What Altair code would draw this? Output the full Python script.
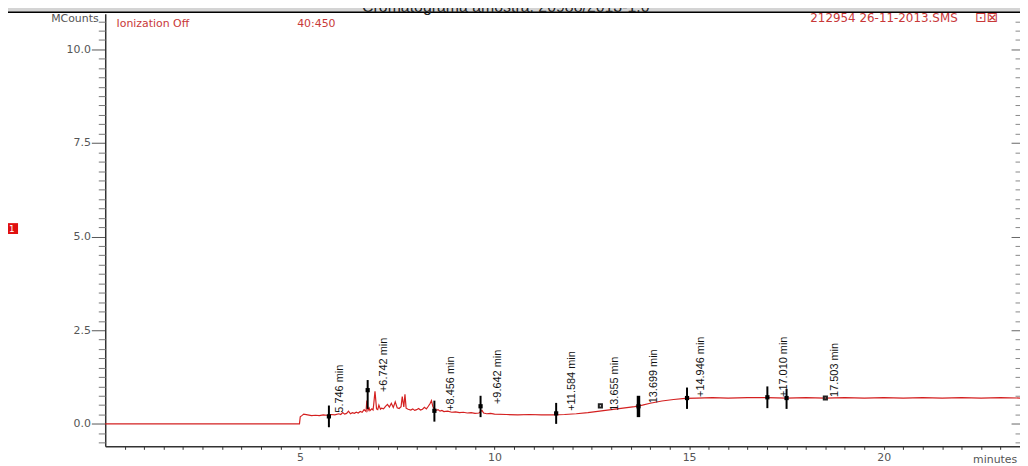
import altair as alt
import pandas as pd

# ---------------- data ----------------
trace_t = [0.0, 4.99, 5.01, 5.05, 5.1, 5.2, 5.3, 5.4, 5.5, 5.6, 5.7, 5.8, 5.9, 6.0, 6.05, 6.1, 6.15,
           6.2, 6.25, 6.3, 6.35, 6.4, 6.45, 6.5, 6.55, 6.6, 6.65, 6.7, 6.72, 6.75, 6.78, 6.8, 6.85,
           6.88, 6.9, 6.93, 6.97, 7.0, 7.03, 7.07, 7.1, 7.15, 7.2, 7.25, 7.3, 7.35, 7.4, 7.45, 7.5,
           7.55, 7.6, 7.63, 7.67, 7.7, 7.73, 7.78, 7.85, 7.9, 7.95, 8.0, 8.05, 8.1, 8.15, 8.2, 8.25,
           8.3, 8.35, 8.38, 8.42, 8.46, 8.5, 8.55, 8.6, 8.65, 8.7, 8.8, 8.9, 9.0, 9.1, 9.2, 9.3, 9.4,
           9.5, 9.6, 9.68, 9.72, 9.8, 9.9, 10.0, 10.3, 10.6, 10.9, 11.2, 11.5, 11.8, 12.1, 12.4, 12.7,
           13.0, 13.3, 13.6, 13.8, 14.0, 14.3, 14.6, 14.9, 15.2, 15.6, 16.0, 16.5, 17.0, 17.5, 18.0,
           18.5, 19.0, 19.5, 20.0, 20.5, 21.0, 21.5, 22.0, 22.5, 23.0, 23.5]
trace_v = [0.0, 0.0, 0.19, 0.22, 0.26, 0.24, 0.22, 0.23, 0.22, 0.24, 0.23, 0.25, 0.24, 0.27, 0.25, 0.30, 0.26,
           0.28, 0.34, 0.27, 0.30, 0.28, 0.31, 0.29, 0.33, 0.31, 0.38, 0.33, 0.62, 0.36, 0.42, 0.35, 0.40,
           0.37, 0.55, 0.87, 0.40, 0.38, 0.50, 0.39, 0.42, 0.40, 0.47, 0.52, 0.45, 0.55, 0.44, 0.59, 0.43,
           0.41, 0.46, 0.73, 0.45, 0.79, 0.42, 0.39, 0.37, 0.40, 0.36, 0.38, 0.41, 0.37, 0.39, 0.44, 0.40,
           0.47, 0.55, 0.62, 0.45, 0.40, 0.36, 0.38, 0.34, 0.36, 0.33, 0.34, 0.31, 0.32, 0.30, 0.31, 0.29, 0.30,
           0.28, 0.29, 0.36, 0.29, 0.27, 0.28, 0.26, 0.25, 0.24, 0.25, 0.24, 0.24, 0.25, 0.27, 0.30, 0.34,
           0.38, 0.42, 0.46, 0.50, 0.55, 0.61, 0.65, 0.68, 0.69, 0.70, 0.69, 0.70, 0.70, 0.69, 0.70,
           0.69, 0.70, 0.69, 0.70, 0.69, 0.70, 0.69, 0.70, 0.69, 0.70, 0.69]

peak_t = [5.746, 6.742, 8.456, 9.642, 11.584, 13.699, 14.946, 17.010, 17.503]
peak_lo = [-0.09, 0.40, 0.06, 0.18, 0.00, 0.18, 0.40, 0.42, 0.40]
peak_hi = [0.49, 1.17, 0.62, 0.75, 0.56, 0.75, 0.97, 1.00, 0.93]
peak_dot = [0.20, 0.90, 0.35, 0.47, 0.28, 0.47, 0.69, 0.71, 0.69]
peak_w = [2, 2, 2, 2, 2, 3.5, 2, 2, 2]

label_text = ["5.746 min", "+6.742 min", "+8.456 min", "+9.642 min", "+11.584 min",
              "13.655 min", "13.699 min", "+14.946 min", "+17.010 min", "17.503 min"]
label_t = [6.03, 7.15, 8.89, 10.08, 12.0, 13.1, 14.11, 15.31, 17.43, 18.76]
label_v = [0.30, 0.85, 0.35, 0.53, 0.35, 0.35, 0.55, 0.72, 0.72, 0.72]

extra_t = [12.72, 18.5]
extra_v = [0.48, 0.69]

y_major = [0.0, 2.5, 5.0, 7.5, 10.0]
y_minor = [v / 4 for v in range(-2, 44) if v % 10 != 0]
x_ticks = [v / 2 for v in range(1, 48)]

title_text = "Cromatograma amostra: 20988/2013-1.0"

# ---------------- chart ----------------
xs = alt.Scale(domain=[0, 23.5], nice=False, zero=False)
ys = alt.Scale(domain=[-0.6, 10.95], nice=False, zero=False)

trace = pd.DataFrame({"t": trace_t, "v": trace_v})
peaks = pd.DataFrame({"t": peak_t, "lo": peak_lo, "hi": peak_hi, "dot": peak_dot, "w": peak_w})
labels = pd.DataFrame({"t": label_t, "v": label_v, "text": label_text})
extras = pd.DataFrame({"t": extra_t, "v": extra_v})

AX_FONT = "DejaVu Sans"
x_axis = alt.Axis(orient="bottom", values=x_ticks,
                  labelExpr="datum.value % 5 === 0 ? '' + datum.value : ''",
                  tickSize=3, labelPadding=2, labelFont=AX_FONT, labelFontSize=11,
                  labelColor="#555", tickColor="#333", domainColor="#333", domainWidth=1.5,
                  grid=False, title=None, labelFlush=False, labelOverlap=False)

def yaxis_layer(axis):
    return alt.Chart(trace).mark_line(opacity=0).encode(
        x=alt.X("t:Q", scale=xs, axis=None),
        y=alt.Y("v:Q", scale=ys, axis=axis),
    )

left_major = alt.Axis(orient="left", values=y_major, format=".1f", tickSize=14, labelPadding=1,
                      labelFont=AX_FONT, labelFontSize=11, labelColor="#555", tickColor="#555",
                      domainColor="#333", domainWidth=1.5, grid=False, title=None,
                      labelFlush=False, labelOverlap=False)
left_minor = alt.Axis(orient="left", values=y_minor, tickSize=7, labels=False, domain=False,
                      tickColor="#777", grid=False, title=None)
right_major = alt.Axis(orient="right", values=y_major, tickSize=9, offset=-9, labels=False,
                       domain=False, tickColor="#666", grid=False, title=None)
right_minor = alt.Axis(orient="right", values=y_minor, tickSize=5, offset=-5, labels=False,
                       domain=False, tickColor="#888", grid=False, title=None)

line = alt.Chart(trace).mark_line(color="#d42020", strokeWidth=1.2).encode(
    x=alt.X("t:Q", scale=xs, axis=x_axis),
    y=alt.Y("v:Q", scale=ys, axis=left_major),
)

rules = alt.Chart(peaks).mark_rule(color="black").encode(
    x=alt.X("t:Q", scale=xs, axis=None),
    y=alt.Y("lo:Q", scale=ys, axis=None),
    y2="hi:Q",
    strokeWidth=alt.StrokeWidth("w:Q", scale=None),
)
dots = alt.Chart(peaks).mark_square(color="black", size=18, opacity=1).encode(
    x=alt.X("t:Q", scale=xs, axis=None),
    y=alt.Y("dot:Q", scale=ys, axis=None),
)
extra_marks = alt.Chart(extras).mark_square(color="#222", size=10, opacity=1, filled=False).encode(
    x=alt.X("t:Q", scale=xs, axis=None),
    y=alt.Y("v:Q", scale=ys, axis=None),
)
peak_labels = alt.Chart(labels).mark_text(
    angle=270, align="left", baseline="middle",
    font="Liberation Sans Narrow, Arial Narrow, Liberation Sans", fontSize=11, color="#111",
).encode(
    x=alt.X("t:Q", scale=xs, axis=None),
    y=alt.Y("v:Q", scale=ys, axis=None),
    text="text:N",
)

def note(t, v, txt, **kw):
    df = pd.DataFrame({"t": [t], "v": [v], "text": [txt]})
    return alt.Chart(df).mark_text(**kw).encode(
        x=alt.X("t:Q", scale=xs, axis=None),
        y=alt.Y("v:Q", scale=ys, axis=None),
        text="text:N",
    )

band = alt.Chart(pd.DataFrame({"t": [-3.0], "t2": [24.0], "v": [11.3], "v2": [11.0]})).mark_rect(
    color="#d4d4d4").encode(
    x=alt.X("t:Q", scale=xs, axis=None), x2="t2:Q",
    y=alt.Y("v:Q", scale=ys, axis=None), y2="v2:Q",
)
band_line = alt.Chart(pd.DataFrame({"t": [-3.0], "t2": [24.0], "v": [10.99]})).mark_rule(
    color="black", strokeWidth=1.3).encode(
    x=alt.X("t:Q", scale=xs, axis=None), x2="t2:Q",
    y=alt.Y("v:Q", scale=ys, axis=None),
)
red_box = alt.Chart(pd.DataFrame({"t": [-2.8], "t2": [-2.24], "v": [5.36], "v2": [5.07]})).mark_rect(
    color="#e01010").encode(
    x=alt.X("t:Q", scale=xs, axis=None), x2="t2:Q",
    y=alt.Y("v:Q", scale=ys, axis=None), y2="v2:Q",
)

texts = [
    note(10.29, 11.0, title_text, font="Liberation Sans", fontSize=16, color="#222",
         align="center", baseline="alphabetic"),
    note(-0.17, 10.72, "MCounts", font=AX_FONT, fontSize=11, color="#555",
         align="right", baseline="alphabetic"),
    note(0.29, 10.6, "Ionization Off", font=AX_FONT, fontSize=11, color="#c83838",
         align="left", baseline="alphabetic"),
    note(4.93, 10.6, "40:450", font=AX_FONT, fontSize=11, color="#c83838",
         align="left", baseline="alphabetic"),
    note(21.9, 10.72, "212954 26-11-2013.SMS", font=AX_FONT, fontSize=12, color="#c83838",
         align="right", baseline="alphabetic"),
    note(22.35, 10.72, "⊡⊠", font=AX_FONT, fontSize=14, color="#c83838",
         align="left", baseline="alphabetic"),
    note(23.43, -1.05, "minutes", font=AX_FONT, fontSize=11, color="#555",
         align="right", baseline="alphabetic"),
    note(-2.4, 5.21, "1", font=AX_FONT, fontSize=9, color="white",
         align="center", baseline="middle"),
]

chart = alt.layer(
    line,
    band, band_line, red_box,
    yaxis_layer(left_minor), yaxis_layer(right_major), yaxis_layer(right_minor),
    rules, dots, extra_marks, peak_labels, *texts,
).resolve_axis(x="independent", y="independent").properties(
    width=922, height=436,
    padding={"left": 98, "top": 4, "right": 0, "bottom": 18},
    autosize="none",
    background="white",
).configure_view(strokeWidth=0)

chart.save("out.html", embed_options={"renderer": "svg", "actions": False})
